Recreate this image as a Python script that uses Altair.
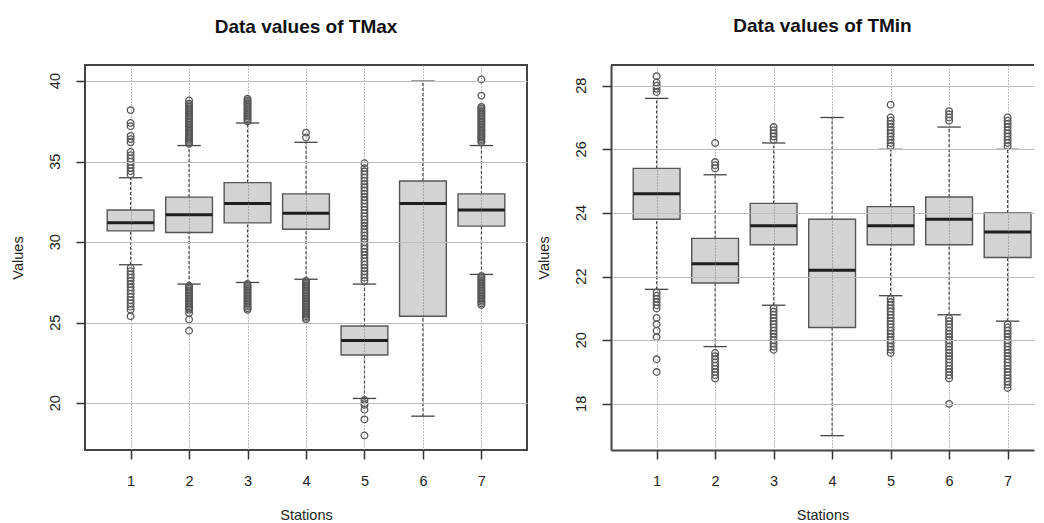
import altair as alt
import pandas as pd

stations = [1, 2, 3, 4, 5, 6, 7]

# ---- TMax summary ----
tmax_lo = [28.6, 27.4, 27.5, 27.7, 20.3, 19.2, 28.0]
tmax_q1 = [30.7, 30.6, 31.2, 30.8, 23.0, 25.4, 31.0]
tmax_med = [31.2, 31.7, 32.4, 31.8, 23.9, 32.4, 32.0]
tmax_q3 = [32.0, 32.8, 33.7, 33.0, 24.8, 33.8, 33.0]
tmax_hi = [34.0, 36.0, 37.4, 36.2, 27.4, 40.0, 36.0]
tmax_ticks = [20, 25, 30, 35, 40]
tmax_tick_labels = ["20", "25", "30", "35", "40"]

tmax_out_1 = [34.2, 34.4, 34.6, 34.8, 35.0, 35.2, 35.4, 35.6, 36.2, 36.4, 36.6, 37.2, 37.4, 38.2,
              28.4, 28.2, 28.0, 27.8, 27.6, 27.4, 27.2, 27.0, 26.8, 26.6, 26.4, 26.2, 26.0, 25.8, 25.4]
tmax_out_2 = [36.1, 36.2, 36.3, 36.4, 36.5, 36.6, 36.7, 36.8, 36.9, 37.0, 37.1, 37.2, 37.3, 37.4,
              37.5, 37.6, 37.7, 37.8, 37.9, 38.0, 38.1, 38.2, 38.3, 38.4, 38.5, 38.6, 38.8,
              27.3, 27.2, 27.1, 27.0, 26.9, 26.8, 26.7, 26.6, 26.5, 26.4, 26.3, 26.2, 26.1, 26.0,
              25.9, 25.8, 25.6, 25.2, 24.5]
tmax_out_3 = [37.5, 37.6, 37.7, 37.8, 37.9, 38.0, 38.1, 38.2, 38.3, 38.4, 38.5, 38.6, 38.7, 38.8, 38.9,
              27.4, 27.3, 27.2, 27.1, 27.0, 26.9, 26.8, 26.7, 26.6, 26.5, 26.4, 26.3, 26.2, 26.1,
              26.0, 25.9, 25.8]
tmax_out_4 = [36.5, 36.8,
              27.6, 27.5, 27.4, 27.3, 27.2, 27.1, 27.0, 26.9, 26.8, 26.7, 26.6, 26.5, 26.4, 26.3,
              26.2, 26.1, 26.0, 25.9, 25.8, 25.7, 25.6, 25.5, 25.4, 25.3, 25.2]
tmax_out_5 = [27.6, 27.8, 28.0, 28.2, 28.4, 28.6, 28.8, 29.0, 29.2, 29.4, 29.6, 29.8, 30.0, 30.2,
              30.4, 30.6, 30.8, 31.0, 31.2, 31.4, 31.6, 31.8, 32.0, 32.2, 32.4, 32.6, 32.8, 33.0,
              33.2, 33.4, 33.6, 33.8, 34.0, 34.2, 34.4, 34.6, 34.9,
              20.2, 20.0, 19.9, 19.6, 19.0, 18.0]
tmax_out_6 = []
tmax_out_7 = [36.2, 36.3, 36.4, 36.5, 36.6, 36.7, 36.8, 36.9, 37.0, 37.1, 37.2, 37.3, 37.4, 37.5,
              37.6, 37.7, 37.8, 37.9, 38.0, 38.1, 38.2, 38.3, 38.4, 39.1, 40.1,
              27.9, 27.8, 27.7, 27.6, 27.5, 27.4, 27.3, 27.2, 27.1, 27.0, 26.9, 26.8, 26.7, 26.6,
              26.5, 26.4, 26.3, 26.2, 26.1]

# ---- TMin summary ----
tmin_lo = [21.6, 19.8, 21.1, 17.0, 21.4, 20.8, 20.6]
tmin_q1 = [23.8, 21.8, 23.0, 20.4, 23.0, 23.0, 22.6]
tmin_med = [24.6, 22.4, 23.6, 22.2, 23.6, 23.8, 23.4]
tmin_q3 = [25.4, 23.2, 24.3, 23.8, 24.2, 24.5, 24.0]
tmin_hi = [27.6, 25.2, 26.2, 27.0, 26.0, 26.7, 26.0]
tmin_ticks = [18, 20, 22, 24, 26, 28]
tmin_tick_labels = ["18", "20", "22", "24", "26", "28"]

tmin_out_1 = [27.8, 27.9, 28.0, 28.1, 28.3,
              21.5, 21.4, 21.3, 21.2, 21.1, 21.0, 20.7, 20.5, 20.3, 20.1, 19.4, 19.0]
tmin_out_2 = [25.4, 25.5, 25.6, 26.2,
              19.6, 19.5, 19.4, 19.3, 19.2, 19.1, 19.0, 18.9, 18.8]
tmin_out_3 = [26.3, 26.4, 26.5, 26.6, 26.7,
              21.0, 20.9, 20.8, 20.7, 20.6, 20.5, 20.4, 20.3, 20.2, 20.1, 20.0, 19.9, 19.8, 19.7]
tmin_out_4 = []
tmin_out_5 = [26.1, 26.2, 26.3, 26.4, 26.5, 26.6, 26.7, 26.8, 26.9, 27.0, 27.4,
              21.3, 21.2, 21.1, 21.0, 20.9, 20.8, 20.7, 20.6, 20.5, 20.4, 20.3, 20.2, 20.1, 20.0,
              19.9, 19.8, 19.7, 19.6]
tmin_out_6 = [26.9, 27.0, 27.1, 27.2,
              20.7, 20.6, 20.5, 20.4, 20.3, 20.2, 20.1, 20.0, 19.9, 19.8, 19.7, 19.6, 19.5, 19.4,
              19.3, 19.2, 19.1, 19.0, 18.9, 18.8, 18.0]
tmin_out_7 = [26.1, 26.2, 26.3, 26.4, 26.5, 26.6, 26.7, 26.8, 26.9, 27.0,
              20.5, 20.4, 20.3, 20.2, 20.1, 20.0, 19.9, 19.8, 19.7, 19.6, 19.5, 19.4, 19.3, 19.2,
              19.1, 19.0, 18.9, 18.8, 18.7, 18.6, 18.5]

FONT = "Liberation Sans"
DARK = "#444444"
FS = 14.5


def panel(title, lo, q1, med, q3, hi, outs, ydom, yvals, ylabels, xdom, width, framed):
    box = pd.DataFrame(dict(station=stations, lo=lo, q1=q1, med=med, q3=q3, hi=hi))
    rows = [(s, v) for s, vals in zip(stations, outs) for v in vals]
    odf = pd.DataFrame(rows, columns=["station", "value"])
    tdf = pd.DataFrame(dict(v=yvals, lab=ylabels))

    xs = alt.Scale(domain=xdom, nice=False, zero=False)
    ys = alt.Scale(domain=ydom, nice=False, zero=False)

    xaxis = alt.Axis(values=stations, format="d", title="Stations", grid=True,
                     gridDash=[1, 2], gridColor="#777777", gridWidth=1,
                     tickSize=9, tickColor="#333333", tickWidth=1.5,
                     domain=not framed, domainColor=DARK, domainWidth=2,
                     labelFontSize=FS, labelColor="#222222", labelPadding=15,
                     labelFont=FONT, titleFont=FONT,
                     titleFontSize=FS, titleFontWeight="normal", titleColor="#222222",
                     titlePadding=21, zindex=1)
    # y tick labels are drawn rotated by a text layer below (R style)
    yaxis = alt.Axis(values=yvals, title="Values", grid=True, gridColor="#bdbdbd",
                     gridWidth=1, tickSize=9, tickColor="#333333", tickWidth=1.5,
                     domain=not framed, domainColor=DARK, domainWidth=2,
                     labels=False, titleFont=FONT,
                     titleFontSize=FS, titleFontWeight="normal", titleColor="#222222",
                     titlePadding=50, zindex=1)

    def X(f):
        return alt.X(f, type="quantitative", scale=xs, axis=xaxis)

    def Y(f):
        return alt.Y(f, type="quantitative", scale=ys, axis=yaxis)

    base = alt.Chart(box).transform_calculate(
        bl="datum.station - 0.4", br="datum.station + 0.4",
        sl="datum.station - 0.2", sr="datum.station + 0.2")

    wu = base.mark_rule(color=DARK, strokeDash=[3, 2], strokeWidth=1.2).encode(
        x=X("station"), y=Y("q3"), y2="hi")
    wl = base.mark_rule(color=DARK, strokeDash=[3, 2], strokeWidth=1.2).encode(
        x=X("station"), y=Y("lo"), y2="q1")
    sh = base.mark_rule(color=DARK, strokeWidth=1.3).encode(x=X("sl"), x2="sr", y=Y("hi"))
    sl = base.mark_rule(color=DARK, strokeWidth=1.3).encode(x=X("sl"), x2="sr", y=Y("lo"))
    rect = base.mark_rect(fill="#d3d3d3", stroke="#555555", strokeWidth=1.4).encode(
        x=X("bl"), x2="br", y=Y("q1"), y2="q3")
    medl = base.mark_rule(color="#1e1e1e", strokeWidth=3).encode(
        x=X("bl"), x2="br", y=Y("med"))
    pts = alt.Chart(odf).mark_point(shape="circle", filled=False, color="#555555",
                                    size=44, strokeWidth=1.3, opacity=1).encode(
        x=X("station"), y=Y("value"))
    ylab = alt.Chart(tdf).mark_text(angle=270, font=FONT, fontSize=FS, color="#222222",
                                    align="center", baseline="middle").encode(
        x=alt.value(-29.5), y=Y("v"), text="lab:N")

    layers = [wu, wl, sh, sl, rect, medl, pts, ylab]
    if not framed:
        # top frame line (the right edge of this panel lies beyond the picture)
        top = alt.Chart(box).mark_rule(color=DARK, strokeWidth=2).encode(
            x=alt.value(0), x2=alt.value(width), y=alt.value(0))
        layers.append(top)

    ch = alt.layer(*layers).properties(
        width=width, height=385,
        title=alt.TitleParams(title, fontSize=19, fontWeight="bold", font=FONT,
                              color="#111111", anchor="middle", frame="group", offset=28),
    )
    if framed:
        ch = ch.properties(view=alt.ViewBackground(stroke=DARK, strokeWidth=2))
    else:
        ch = ch.properties(view=alt.ViewBackground(strokeWidth=0, strokeOpacity=0))
    return ch


left = panel("Data values of TMax", tmax_lo, tmax_q1, tmax_med, tmax_q3, tmax_hi,
             [tmax_out_1, tmax_out_2, tmax_out_3, tmax_out_4, tmax_out_5, tmax_out_6, tmax_out_7],
             [17.1, 41.0], tmax_ticks, tmax_tick_labels, [0.22, 7.78], 442, True)
right = panel("Data values of TMin", tmin_lo, tmin_q1, tmin_med, tmin_q3, tmin_hi,
              [tmin_out_1, tmin_out_2, tmin_out_3, tmin_out_4, tmin_out_5, tmin_out_6, tmin_out_7],
              [16.55, 28.65], tmin_ticks, tmin_tick_labels, [0.22, 7.451], 423, False)

chart = alt.hconcat(left, right, spacing=8).properties(
    padding={"left": 1, "top": 9, "right": 0, "bottom": 0},
    background="white",
).configure(font=FONT)

chart.save("out.html", embed_options={"renderer": "svg", "actions": False})
